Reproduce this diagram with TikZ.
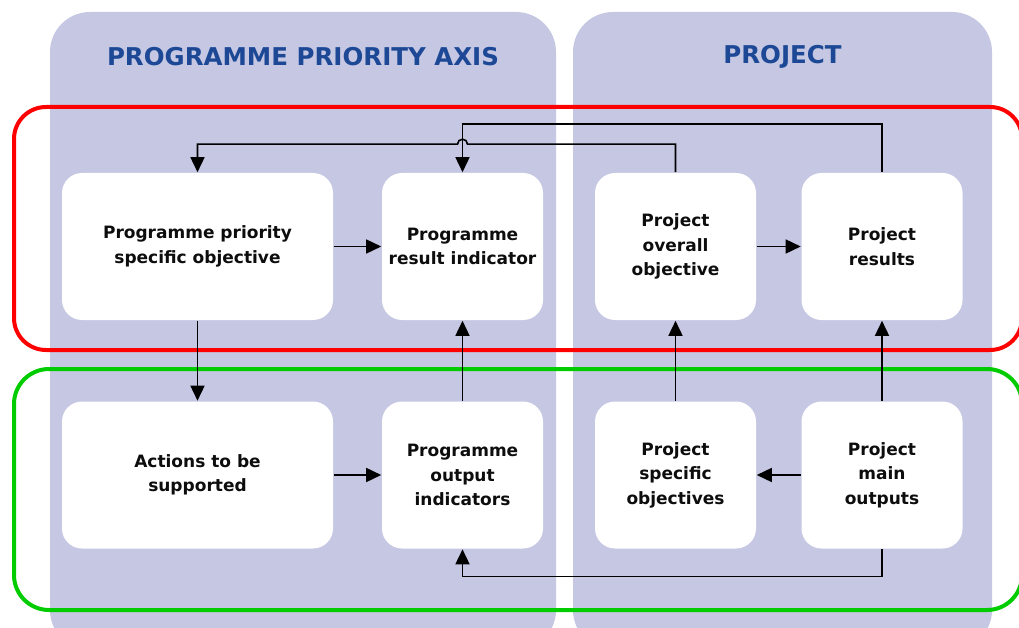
\documentclass[tikz,border=0pt]{standalone}
\usepackage{fontspec}
\setmainfont{DejaVu Sans}
\usetikzlibrary{arrows.meta}
\definecolor{panel}{RGB}{197,199,227}
\definecolor{axisblue}{RGB}{28,72,150}
\definecolor{framered}{RGB}{255,0,0}
\definecolor{framegreen}{RGB}{0,204,0}
\begin{document}
\begin{tikzpicture}[x=1pt,y=-1pt,line width=1.6pt,
  box/.style={fill=white,rounded corners=20pt,minimum height=147pt,inner sep=0pt,align=center,
    text=black!95,font=\bfseries\fontsize{17}{24.5}\selectfont},
  wide/.style={box,minimum width=271pt},
  narrow/.style={box,minimum width=161pt},
  title/.style={text=axisblue,font=\bfseries\fontsize{24.5}{29}\selectfont},
  link/.style={-{Triangle[length=15pt,width=14pt]}}]
\clip (0,0) rectangle (1019,628);
\fill[panel,rounded corners=40pt] (50,12) rectangle (556,650);
\fill[panel,rounded corners=40pt] (573,12) rectangle (992,650);
\draw[framered,line width=4pt,rounded corners=32pt] (14,107) rectangle (1022,350);
\draw[framegreen,line width=4pt,rounded corners=35pt] (14,369) rectangle (1022,610);
\node[title] (axis) at (303,57) {PROGRAMME PRIORITY AXIS};
\node[title] (project) at (782.5,57) {PROJECT};
\node[wide] (pso) at (197.5,246.5) {Programme priority\\specific objective};
\node[narrow] (pri) at (462.5,246.5) {Programme\\result indicator};
\node[narrow] (poo) at (675.5,246.5) {Project\\overall\\objective};
\node[narrow] (pres) at (882,246.5) {Project\\results};
\node[wide] (act) at (197.5,475) {Actions to be\\supported};
\node[narrow] (poi) at (462.5,475) {Programme\\output\\indicators};
\node[narrow] (pspo) at (675.5,475) {Project\\specific\\objectives};
\node[narrow] (pmo) at (882,475) {Project\\main\\outputs};
\foreach \a/\b in {pso/pri,poo/pres,act/poi,pmo/pspo,pso/act,poi/pri,pspo/poo,pmo/pres}
  { \draw[link] (\a) -- (\b); }
\path (pri.north) ++(0,-48) coordinate (top) ++(0,20) coordinate (hop);
\path (poi.south) ++(0,27) coordinate (bot);
\draw[link] (pres.north) |- (top) -- (pri.north);
\draw[link] (poo.north) |- ([xshift=5pt]hop) arc[start angle=0,end angle=180,radius=5pt] -- (hop -| pso.north) -- (pso.north);
\draw[link] (pmo.south) |- (bot) -- (poi.south);
\end{tikzpicture}
\end{document}
